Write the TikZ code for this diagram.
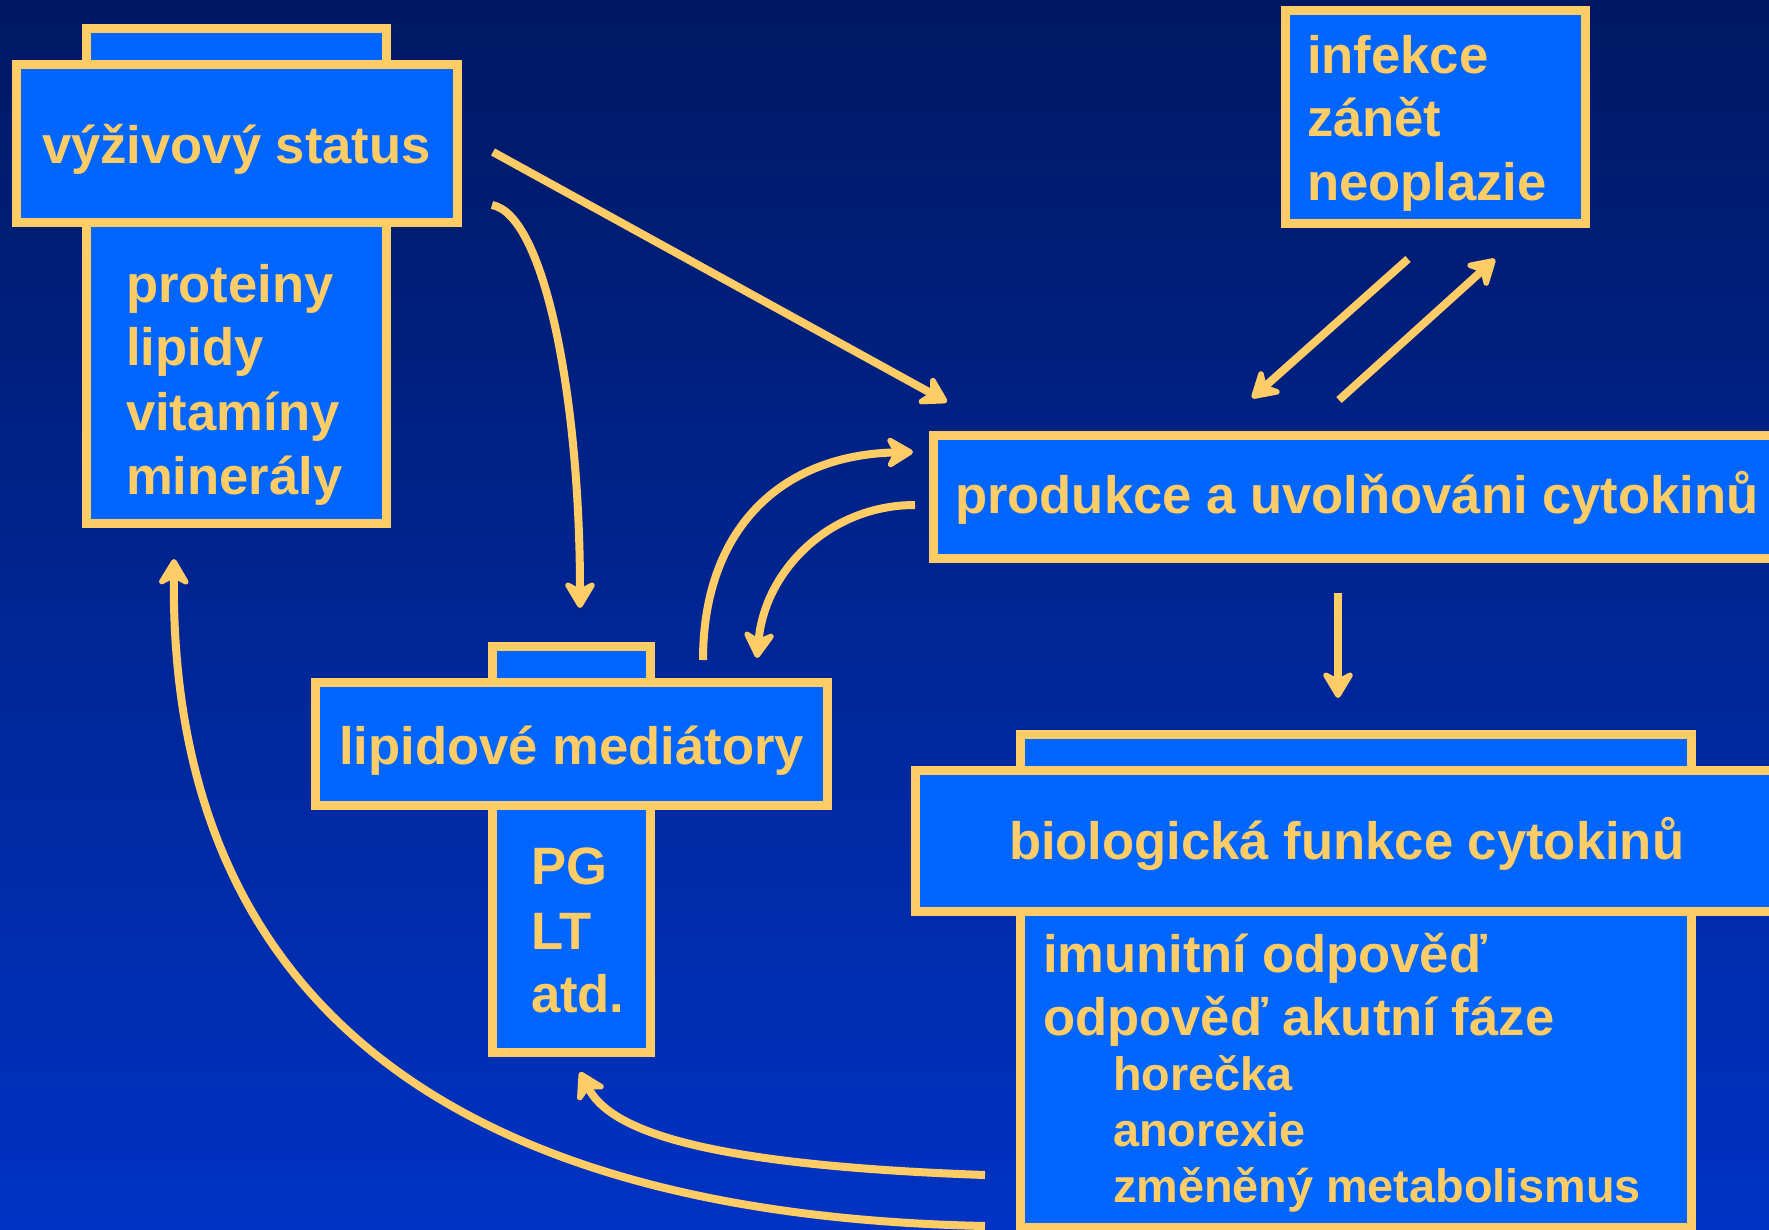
\documentclass[tikz,border=0pt]{standalone}
\usepackage{fontspec}
\setmainfont{Liberation Sans}
\usetikzlibrary{arrows.meta}
\definecolor{gold}{HTML}{FFCC66}
\definecolor{boxblue}{HTML}{0066FF}
\definecolor{bgtop}{HTML}{001862}
\definecolor{bgbot}{HTML}{0033C4}
\begin{document}
\begin{tikzpicture}[x=1pt,y=-1pt,
  box/.style={draw=gold, fill=boxblue, line width=9pt, inner sep=0pt, outer sep=0pt, rectangle},
  txt/.style={text=gold, inner sep=0pt, outer sep=0pt, anchor=base west, font=\bfseries\fontsize{52.6}{63}\selectfont},
  subtxt/.style={txt, font=\bfseries\fontsize{46.8}{56}\selectfont},
  ctxt/.style={txt, anchor=base},
  arr/.style={draw=gold, line width=8pt, -{Stealth[length=32pt,width=38pt,inset=10pt,round]}}
]
\clip (0,0) rectangle (1769,1230);
\useasboundingbox (0,0) rectangle (1769,1230);
\shade[top color=bgtop, bottom color=bgbot] (0,0) rectangle (1769,1230);

% výživový status
\node[box, minimum width=300pt, minimum height=494pt] (vyzB) at (236,276) {};
\node[box, minimum width=441pt, minimum height=158pt] (vyzF) at (236.5,144) {};
\node[ctxt] (vyzT) at (236.5,164) {výživový status};
\node[txt] (vyz1) at (126,303) {proteiny};
\node[txt] (vyz2) at (126,366) {lipidy};
\node[txt] (vyz3) at (126,430) {vitamíny};
\node[txt] (vyz4) at (126,494) {minerály};

% infekce
\node[box, minimum width=300pt, minimum height=213pt] (inf) at (1435,117.5) {};
\node[txt] (inf1) at (1307,74) {infekce};
\node[txt] (inf2) at (1307,137) {zánět};
\node[txt] (inf3) at (1307,201) {neoplazie};

% produkce
\node[box, minimum width=867pt, minimum height=123pt] (prod) at (1366.5,496.5) {};
\node[txt] (prodT) at (955,513) {produkce a uvolňováni cytokinů};

% lipidové mediátory
\node[box, minimum width=158pt, minimum height=406pt] (lipB) at (571,849) {};
\node[box, minimum width=512pt, minimum height=123pt] (lipF) at (571,743.5) {};
\node[ctxt] (lipT) at (571.5,764) {lipidové mediátory};
\node[txt] (lip1) at (531,884) {PG};
\node[txt] (lip2) at (531,949) {LT};
\node[txt] (lip3) at (531,1012) {atd.};

% biologická funkce
\node[box, minimum width=671pt, minimum height=493pt] (bioB) at (1355.5,980.5) {};
\node[box, minimum width=885pt, minimum height=141pt] (bioF) at (1357.5,840.5) {};
\node[txt] (bioT) at (1009,859) {biologická funkce cytokinů};
\node[txt] (bio1) at (1043,972) {imunitní odpověď};
\node[txt] (bio2) at (1043,1035) {odpověď akutní fáze};
\node[subtxt] (bio3) at (1113,1090) {horečka};
\node[subtxt] (bio4) at (1113,1146) {anorexie};
\node[subtxt] (bio5) at (1113,1202) {změněný metabolismus};

% connector end points
\coordinate (a1s) at (493,152);   \coordinate (a1e) at (947,402);
\coordinate (a2s) at (492,205);   \coordinate (a2e) at (580,608);
\coordinate (a3s) at (1408,259);  \coordinate (a3e) at (1252,398);
\coordinate (a4s) at (1339,400);  \coordinate (a4e) at (1495,259);
\coordinate (a5s) at (703,660);   \coordinate (a5e) at (913,452);
\coordinate (a6s) at (915,505);   \coordinate (a6e) at (757,658);
\coordinate (a7s) at (1338,593);  \coordinate (a7e) at (1338,698);
\coordinate (a8s) at (985,1175);  \coordinate (a8e) at (580,1072);
\coordinate (a9s) at (985,1226);  \coordinate (a9e) at (174,559);

\draw[arr] (a1s) -- (a1e);
\draw[arr] (a2s) .. controls (545,215) and (580,400) .. (a2e);
\draw[arr] (a3s) -- (a3e);
\draw[arr] (a4s) -- (a4e);
\draw[arr] (a5s) .. controls (703,530) and (780,455) .. (a5e);
\draw[arr] (a6s) .. controls (830,505) and (765,570) .. (a6e);
\draw[arr] (a7s) -- (a7e);
\draw[arr] (a8s) .. controls (700,1165) and (610,1130) .. (a8e);
\draw[arr] (a9s) .. controls (450,1215) and (170,1000) .. (a9e);
\end{tikzpicture}
\end{document}
